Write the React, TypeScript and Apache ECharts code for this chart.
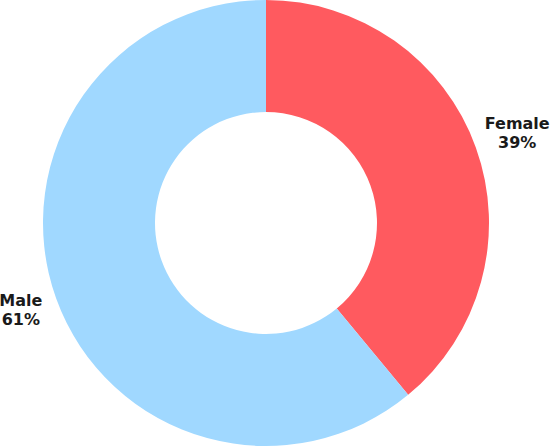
import { useEffect, useRef } from 'react';
import * as echarts from 'echarts';

const genders = ['Female', 'Male'];
const shares = [39, 61];
const sliceColors = ['#FF5A5F', '#A0D8FF'];

// small nudges so the labels sit where the reference puts them
const labelNudge = [
  { dx: -5, dy: 0 },
  { dx: 11, dy: -3 },
];

export default function App() {
  const chartRef = useRef<HTMLDivElement>(null);

  useEffect(() => {
    if (!chartRef.current) return;
    document.body.style.margin = '0';
    const chart = echarts.init(chartRef.current, null, { renderer: 'svg' });

    const option: echarts.EChartsOption = {
      animation: false,
      backgroundColor: '#ffffff',
      series: [
        {
          type: 'pie',
          center: [266, 223],
          radius: [111, 223],
          startAngle: 90,
          clockwise: true,
          silent: true,
          label: {
            show: true,
            position: 'outside',
            overflow: 'none',
            formatter: (p: any) => `{n|${p.name}}\n{n|${p.value}%}`,
            rich: {
              n: {
                align: 'center',
                fontFamily: 'DejaVu Sans',
                fontWeight: 'bold',
                fontSize: 16,
                lineHeight: 19,
                color: '#1a1a1a',
              },
            },
          },
          labelLine: { show: false, length: 44, length2: 0 },
          labelLayout: (p: any) => ({
            align: 'center',
            verticalAlign: 'middle',
            dx: labelNudge[p.dataIndex].dx,
            dy: labelNudge[p.dataIndex].dy,
          }),
          data: genders.map((g, i) => ({
            name: g,
            value: shares[i],
            itemStyle: { color: sliceColors[i] },
          })),
        },
      ],
    };

    chart.setOption(option);
    return () => {
      chart.dispose();
    };
  }, []);

  return <div ref={chartRef} style={{ width: 554, height: 447 }} />;
}
